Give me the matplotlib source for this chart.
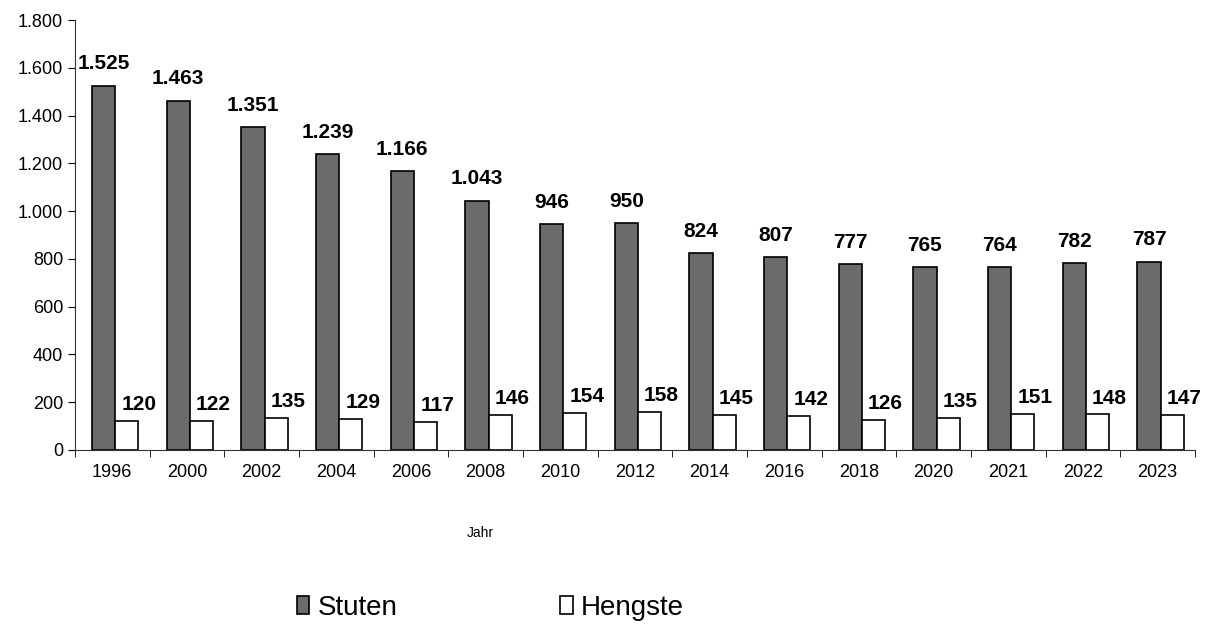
import matplotlib.pyplot as plt
import numpy as np
from matplotlib.ticker import FuncFormatter

plt.rcParams["font.family"] = ["Liberation Sans", "DejaVu Sans"]

# Daten
jahre = ["1996", "2000", "2002", "2004", "2006", "2008", "2010", "2012",
         "2014", "2016", "2018", "2020", "2021", "2022", "2023"]
stuten = [1525, 1463, 1351, 1239, 1166, 1043, 946, 950,
          824, 807, 777, 765, 764, 782, 787]
hengste = [120, 122, 135, 129, 117, 146, 154, 158,
           145, 142, 126, 135, 151, 148, 147]


def fmt_de(v, pos=None):
    # Tausendertrennzeichen als Punkt
    return f"{int(v):,}".replace(",", ".")


fig = plt.figure(figsize=(12.07, 6.30), dpi=100)
ax = fig.add_axes([0.062, 0.286, 0.928, 0.682])

x = np.arange(len(jahre))
w = 0.31
b1 = ax.bar(x - w / 2 + 0.04, stuten, w, color="#6b6b6b", edgecolor="black",
            linewidth=1.2, label="Stuten")
b2 = ax.bar(x + w / 2 + 0.04, hengste, w, color="white", edgecolor="black",
            linewidth=1.2, label="Hengste")

# Werte über den Balken
for xi, v in zip(x, stuten):
    ax.annotate(fmt_de(v), (xi - w / 2 + 0.04, v), xytext=(0, 9),
                textcoords="offset points", ha="center", va="bottom",
                fontsize=15, fontweight="bold")
for xi, v in zip(x, hengste):
    ax.annotate(fmt_de(v), (xi + w / 2 + 0.2, v), xytext=(0, 5),
                textcoords="offset points", ha="center", va="bottom",
                fontsize=15, fontweight="bold")

# Achsen
ax.set_xlim(-0.5, len(jahre) - 0.5)
ax.set_ylim(0, 1800)
ax.set_yticks(np.arange(0, 1801, 200))
ax.yaxis.set_major_formatter(FuncFormatter(fmt_de))
ax.set_xticks(x)
ax.set_xticklabels(jahre)
ax.set_xticks(np.arange(-0.5, len(jahre), 1), minor=True)
ax.tick_params(axis="x", which="major", length=0, pad=10, labelsize=13)
ax.tick_params(axis="x", which="minor", length=5, direction="out")
ax.tick_params(axis="y", length=5, labelsize=13)
for s in ["top", "right"]:
    ax.spines[s].set_visible(False)
ax.spines["left"].set_color("#333333")
ax.spines["bottom"].set_color("#333333")

fig.text(0.398, 0.154, "Jahr", ha="center", va="center", fontsize=10)

# Legende
fig.legend(handles=[b1], loc="center left", bbox_to_anchor=(0.246, 0.035),
           frameon=False, fontsize=20, handlelength=0.45, handleheight=0.6,
           handletextpad=0.3, borderpad=0, borderaxespad=0)
fig.legend(handles=[b2], loc="center left", bbox_to_anchor=(0.464, 0.035),
           frameon=False, fontsize=20, handlelength=0.45, handleheight=0.6,
           handletextpad=0.3, borderpad=0, borderaxespad=0)

fig.savefig("out.png", dpi=100)
plt.close()
